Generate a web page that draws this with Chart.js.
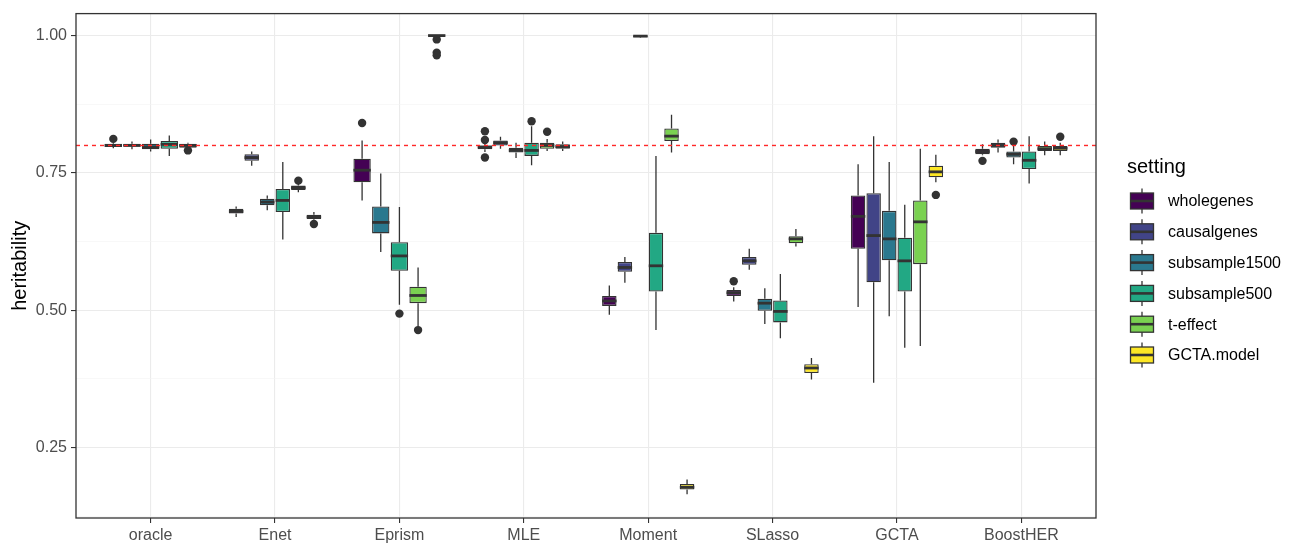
<!DOCTYPE html>
<html>
<head>
<meta charset="utf-8">
<script src="https://cdn.jsdelivr.net/npm/chart.js@4.4.1/dist/chart.umd.min.js"></script>
<style>
  html, body { margin: 0; padding: 0; background: #ffffff; }
</style>
</head>
<body>
<canvas id="chart" width="1293" height="543"></canvas>
<script>
// ---- data ----
const methods = ['oracle', 'Enet', 'Eprism', 'MLE', 'Moment', 'SLasso', 'GCTA', 'BoostHER'];
const settings = ['wholegenes', 'causalgenes', 'subsample1500', 'subsample500', 't-effect', 'GCTA.model'];
const settingColors = ['#440154', '#414487', '#2A788E', '#22A884', '#7AD151', '#FDE725'];

// [lower whisker, Q1, median, Q3, upper whisker] per method, null = setting not run
const wholegenes = [
  [0.795, 0.797, 0.800, 0.803, 0.805], [0.670, 0.676, 0.680, 0.685, 0.689],
  [0.700, 0.733, 0.755, 0.776, 0.809], [0.788, 0.793, 0.797, 0.800, 0.803],
  [0.492, 0.508, 0.517, 0.526, 0.545], [0.516, 0.526, 0.532, 0.537, 0.542],
  [0.506, 0.612, 0.671, 0.709, 0.766], [0.782, 0.784, 0.789, 0.794, 0.802]
];
const causalgenes = [
  [0.793, 0.798, 0.800, 0.803, 0.807], [0.763, 0.772, 0.778, 0.784, 0.789],
  null, [0.794, 0.800, 0.805, 0.809, 0.816],
  [0.550, 0.570, 0.578, 0.588, 0.597], [0.574, 0.583, 0.590, 0.597, 0.612],
  [0.368, 0.551, 0.636, 0.713, 0.817], [0.787, 0.796, 0.800, 0.805, 0.811]
];
const subsample1500 = [
  [0.789, 0.793, 0.797, 0.803, 0.811], [0.682, 0.691, 0.697, 0.703, 0.709],
  [0.606, 0.640, 0.660, 0.689, 0.749], [0.777, 0.787, 0.791, 0.796, 0.805],
  [0.996, 0.997, 0.999, 1.000, 1.000], [0.475, 0.499, 0.513, 0.521, 0.540],
  [0.489, 0.591, 0.630, 0.681, 0.770], [0.766, 0.778, 0.784, 0.789, 0.800]
];
const subsample500 = [
  [0.781, 0.794, 0.802, 0.808, 0.818], [0.629, 0.679, 0.700, 0.721, 0.770],
  [0.510, 0.572, 0.599, 0.624, 0.688], [0.764, 0.781, 0.791, 0.805, 0.835],
  [0.464, 0.534, 0.581, 0.641, 0.781], [0.449, 0.478, 0.498, 0.518, 0.566],
  [0.432, 0.534, 0.590, 0.632, 0.692], [0.731, 0.757, 0.773, 0.789, 0.817]
];
const tEffect = [
  [0.794, 0.796, 0.800, 0.803, 0.805], [0.715, 0.719, 0.723, 0.727, 0.731],
  [0.470, 0.513, 0.527, 0.543, 0.578], [0.790, 0.794, 0.800, 0.805, 0.812],
  [0.787, 0.808, 0.817, 0.831, 0.856], [0.616, 0.622, 0.630, 0.635, 0.648],
  [0.435, 0.584, 0.661, 0.700, 0.794], [0.782, 0.790, 0.794, 0.799, 0.807]
];
const gctaModel = [
  null, [0.665, 0.666, 0.670, 0.674, 0.679],
  [0.998, 0.999, 1.000, 1.000, 1.000], [0.790, 0.794, 0.798, 0.802, 0.807],
  [0.165, 0.174, 0.178, 0.184, 0.192], [0.374, 0.386, 0.395, 0.402, 0.413],
  [0.733, 0.742, 0.752, 0.763, 0.783], [0.782, 0.790, 0.795, 0.799, 0.805]
];

// outlying points per method
const wholegenesOut = [[0.812], [], [0.841], [0.826, 0.810, 0.778], [], [0.553], [], [0.772]];
const causalgenesOut = [[], [], [], [], [], [], [], []];
const subsample1500Out = [[], [], [], [], [], [], [], [0.807]];
const subsample500Out = [[], [], [0.494], [0.844], [], [], [], []];
const tEffectOut = [[0.791], [0.736], [0.464], [0.825], [], [], [], []];
const gctaModelOut = [[], [0.657], [0.993, 0.969, 0.964], [], [], [], [0.710], [0.816]];

const yMajor = [0.25, 0.50, 0.75, 1.00];
const yMinor = [0.125, 0.375, 0.625, 0.875];
const trueHeritability = 0.8;

const boxStats = [wholegenes, causalgenes, subsample1500, subsample500, tEffect, gctaModel];
const boxOutliers = [wholegenesOut, causalgenesOut, subsample1500Out, subsample500Out, tEffectOut, gctaModelOut];

// ---- look ----
const fontFamily = '"Liberation Sans", Arial, Helvetica, sans-serif';
const ink = '#333333';
Chart.defaults.font.family = fontFamily;

// whiskers, medians, outliers, reference line, panel border and legend
const boxParts = {
  id: 'boxParts',
  beforeDatasetsDraw(chart) {
    const ctx = chart.ctx;
    const y = chart.scales.y;
    ctx.save();
    ctx.strokeStyle = ink;
    ctx.lineWidth = 1.3;
    chart.data.datasets.forEach((ds, d) => {
      chart.getDatasetMeta(d).data.forEach((bar, i) => {
        const s = boxStats[d][i];
        if (!s) return;
        ctx.beginPath();
        ctx.moveTo(bar.x, y.getPixelForValue(s[0]));
        ctx.lineTo(bar.x, y.getPixelForValue(s[1]));
        ctx.moveTo(bar.x, y.getPixelForValue(s[3]));
        ctx.lineTo(bar.x, y.getPixelForValue(s[4]));
        ctx.stroke();
      });
    });
    ctx.restore();
  },
  afterDatasetsDraw(chart) {
    const ctx = chart.ctx;
    const y = chart.scales.y;
    const area = chart.chartArea;
    ctx.save();
    chart.data.datasets.forEach((ds, d) => {
      chart.getDatasetMeta(d).data.forEach((bar, i) => {
        const s = boxStats[d][i];
        if (!s) return;
        const ym = y.getPixelForValue(s[2]);
        ctx.strokeStyle = ink;
        ctx.lineWidth = 2.8;
        ctx.beginPath();
        ctx.moveTo(bar.x - bar.width / 2, ym);
        ctx.lineTo(bar.x + bar.width / 2, ym);
        ctx.stroke();
        ctx.fillStyle = ink;
        boxOutliers[d][i].forEach(v => {
          ctx.beginPath();
          ctx.arc(bar.x, y.getPixelForValue(v), 4.2, 0, Math.PI * 2);
          ctx.fill();
        });
      });
    });
    // dashed reference line at the true heritability
    const yr = y.getPixelForValue(trueHeritability);
    ctx.strokeStyle = 'rgb(255, 40, 40)';
    ctx.lineWidth = 1.4;
    ctx.setLineDash([4, 4]);
    ctx.beginPath();
    ctx.moveTo(area.left, yr);
    ctx.lineTo(area.right, yr);
    ctx.stroke();
    ctx.restore();
  },
  afterDraw(chart) {
    const ctx = chart.ctx;
    const area = chart.chartArea;
    ctx.save();
    ctx.strokeStyle = ink;
    ctx.lineWidth = 1.3;
    ctx.strokeRect(area.left, area.top, area.right - area.left, area.bottom - area.top);

    // legend
    const x0 = area.right;
    ctx.fillStyle = '#000000';
    ctx.textAlign = 'left';
    ctx.textBaseline = 'middle';
    ctx.font = '20px ' + fontFamily;
    ctx.fillText('setting', x0 + 31, 167);
    ctx.font = '16px ' + fontFamily;
    settings.forEach((name, k) => {
      const yc = 201 + k * 30.8;
      const xc = x0 + 46;
      ctx.strokeStyle = ink;
      ctx.lineWidth = 1.3;
      ctx.beginPath();
      ctx.moveTo(xc, yc - 12.5);
      ctx.lineTo(xc, yc + 12.5);
      ctx.stroke();
      ctx.fillStyle = settingColors[k];
      ctx.fillRect(xc - 11.5, yc - 8, 23, 16);
      ctx.strokeRect(xc - 11.5, yc - 8, 23, 16);
      ctx.lineWidth = 2.6;
      ctx.beginPath();
      ctx.moveTo(xc - 11.5, yc);
      ctx.lineTo(xc + 11.5, yc);
      ctx.stroke();
      ctx.fillStyle = '#000000';
      ctx.fillText(name, x0 + 72, yc + 1);
    });
    ctx.restore();
  }
};

const datasets = settings.map((name, d) => ({
  label: name,
  data: methods.map((m, i) => ({
    x: i,
    y: boxStats[d][i] ? [boxStats[d][i][1], boxStats[d][i][3]] : null
  })),
  backgroundColor: settingColors[d],
  borderColor: ink,
  borderWidth: 1.3,
  borderSkipped: false,
  categoryPercentage: 0.75,
  barPercentage: 0.93,
  skipNull: true
}));

new Chart(document.getElementById('chart'), {
  type: 'bar',
  data: { datasets },
  plugins: [boxParts],
  options: {
    responsive: false,
    animation: false,
    events: [],
    layout: { padding: { top: 9, right: 197, bottom: 0, left: 0 } },
    plugins: {
      legend: { display: false },
      tooltip: { enabled: false }
    },
    scales: {
      x: {
        type: 'linear',
        min: -0.6,
        max: 7.6,
        bounds: 'data',
        offset: false,
        afterBuildTicks: scale => { scale.ticks = methods.map((m, i) => ({ value: i })); },
        afterFit: scale => { scale.height = 25; },
        ticks: {
          callback: v => methods[v],
          color: '#4D4D4D',
          font: { size: 16 },
          padding: 3,
          autoSkip: false,
          maxRotation: 0
        },
        grid: { color: '#EBEBEB', lineWidth: 1.1, offset: false, tickColor: ink, tickLength: 5 },
        border: { display: false }
      },
      y: {
        type: 'linear',
        min: 0.122,
        max: 1.04,
        bounds: 'data',
        afterBuildTicks: scale => {
          scale.ticks = yMajor.concat(yMinor).sort((a, b) => a - b).map(v => ({ value: v }));
        },
        afterFit: scale => { scale.width = 76; },
        ticks: {
          callback: v => yMajor.includes(v) ? v.toFixed(2) : '',
          color: '#4D4D4D',
          font: { size: 16 },
          padding: 4,
          autoSkip: false
        },
        grid: {
          color: c => yMajor.includes(c.tick && c.tick.value) ? '#EBEBEB' : '#F4F4F4',
          lineWidth: c => yMajor.includes(c.tick && c.tick.value) ? 1.1 : 0.6,
          tickColor: c => yMajor.includes(c.tick && c.tick.value) ? ink : 'rgba(0,0,0,0)',
          tickLength: 5
        },
        border: { display: false },
        title: {
          display: true,
          text: 'heritability',
          color: '#000000',
          font: { size: 20 },
          padding: { top: 8, bottom: 0 }
        }
      }
    }
  }
});
</script>
</body>
</html>
